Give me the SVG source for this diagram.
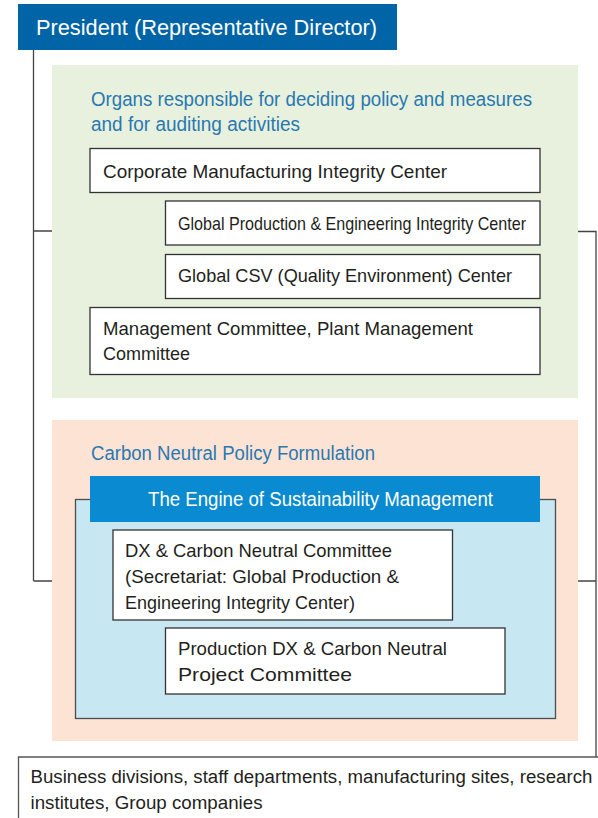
<svg xmlns="http://www.w3.org/2000/svg" width="598" height="818" viewBox="0 0 598 818">
<style>
text{font-family:"Liberation Sans",Arial,sans-serif;}
.t{font-size:19px;fill:#231f20;}
.s{font-size:18.5px;fill:#231f20;}
.h{font-size:20px;fill:#2a78b0;}
.w{fill:#ffffff;}
.box{fill:#ffffff;stroke:#333333;stroke-width:1.3;}
.ln{fill:none;stroke:#444444;stroke-width:1.3;}
</style>
<rect x="0" y="0" width="598" height="818" fill="#ffffff"/>
<g id="connectors">
<path class="ln" d="M33.5 50 V581 M33.5 231 H52 M33.5 581 H52"/>
<path class="ln" d="M578 231.5 H596 V757 M578 581 H596"/>
<path class="ln" d="M128 193 V276 M128 223.5 H165 M128 276 H165"/>
<path class="ln" d="M143 620 V661 H165"/>
</g>
<g id="president">
<rect x="18" y="4" width="379" height="46" fill="#0064a6"/>
<text class="w" x="36" y="35" font-size="22" textLength="341" lengthAdjust="spacingAndGlyphs">President (Representative Director)</text>
</g>
<g id="policy-group">
<rect x="52" y="65" width="526" height="333" fill="#e7f1de"/>
<text class="h" x="91" y="105.5" textLength="441" lengthAdjust="spacingAndGlyphs">Organs responsible for deciding policy and measures</text>
<text class="h" x="91" y="130.5" textLength="209" lengthAdjust="spacingAndGlyphs">and for auditing activities</text>
</g>
<g id="corporate-center">
<rect class="box" x="90" y="148.5" width="450" height="44"/>
<text class="t" x="103" y="177.5" textLength="344" lengthAdjust="spacingAndGlyphs">Corporate Manufacturing Integrity Center</text>
</g>
<g id="global-production">
<rect class="box" x="165.5" y="201" width="374.5" height="44"/>
<text class="s" x="178" y="229.5" textLength="348" lengthAdjust="spacingAndGlyphs">Global Production &amp; Engineering Integrity Center</text>
</g>
<g id="global-csv">
<rect class="box" x="165.5" y="254.5" width="374.5" height="44"/>
<text class="t" x="178" y="282" textLength="334" lengthAdjust="spacingAndGlyphs">Global CSV (Quality Environment) Center</text>
</g>
<g id="management-committee">
<rect class="box" x="90" y="307.5" width="450" height="67"/>
<text class="t" x="103" y="335" textLength="370" lengthAdjust="spacingAndGlyphs">Management Committee, Plant Management</text>
<text class="t" x="103" y="360" textLength="87" lengthAdjust="spacingAndGlyphs">Committee</text>
</g>
<g id="carbon-group">
<rect x="52" y="420" width="526" height="321" fill="#fde3d4"/>
<text class="h" x="91" y="459.5" textLength="284" lengthAdjust="spacingAndGlyphs">Carbon Neutral Policy Formulation</text>
</g>
<g id="engine">
<rect x="75.5" y="499.5" width="480" height="219" fill="#c7e7f3" stroke="#4d4d4d" stroke-width="1.3"/>
<rect x="90" y="476" width="450" height="46" fill="#0a8ad0"/>
<text class="w" x="148" y="506" font-size="20" textLength="345" lengthAdjust="spacingAndGlyphs">The Engine of Sustainability Management</text>
</g>
<g id="dx-committee">
<rect class="box" x="113" y="530" width="339.5" height="90"/>
<text class="t" x="125" y="557" textLength="267" lengthAdjust="spacingAndGlyphs">DX &amp; Carbon Neutral Committee</text>
<text class="t" x="125" y="583" textLength="274" lengthAdjust="spacingAndGlyphs">(Secretariat: Global Production &amp;</text>
<text class="t" x="125" y="609" textLength="230" lengthAdjust="spacingAndGlyphs">Engineering Integrity Center)</text>
</g>
<g id="production-dx">
<rect class="box" x="165.5" y="628" width="339.5" height="66"/>
<text class="t" x="178" y="654.5" textLength="269" lengthAdjust="spacingAndGlyphs">Production DX &amp; Carbon Neutral</text>
<text class="t" x="178" y="680.5" textLength="174" lengthAdjust="spacingAndGlyphs">Project Committee</text>
</g>
<g id="business-divisions">
<path d="M18.5 818 V757 H598" fill="none" stroke="#555555" stroke-width="1.3"/>
<text class="t" transform="translate(30.5 783) scale(0.85 1)" x="0" y="0" textLength="661" lengthAdjust="spacingAndGlyphs">Business divisions, staff departments, manufacturing sites, research</text>
<text class="t" x="30.5" y="809" textLength="232" lengthAdjust="spacingAndGlyphs">institutes, Group companies</text>
</g>
</svg>
